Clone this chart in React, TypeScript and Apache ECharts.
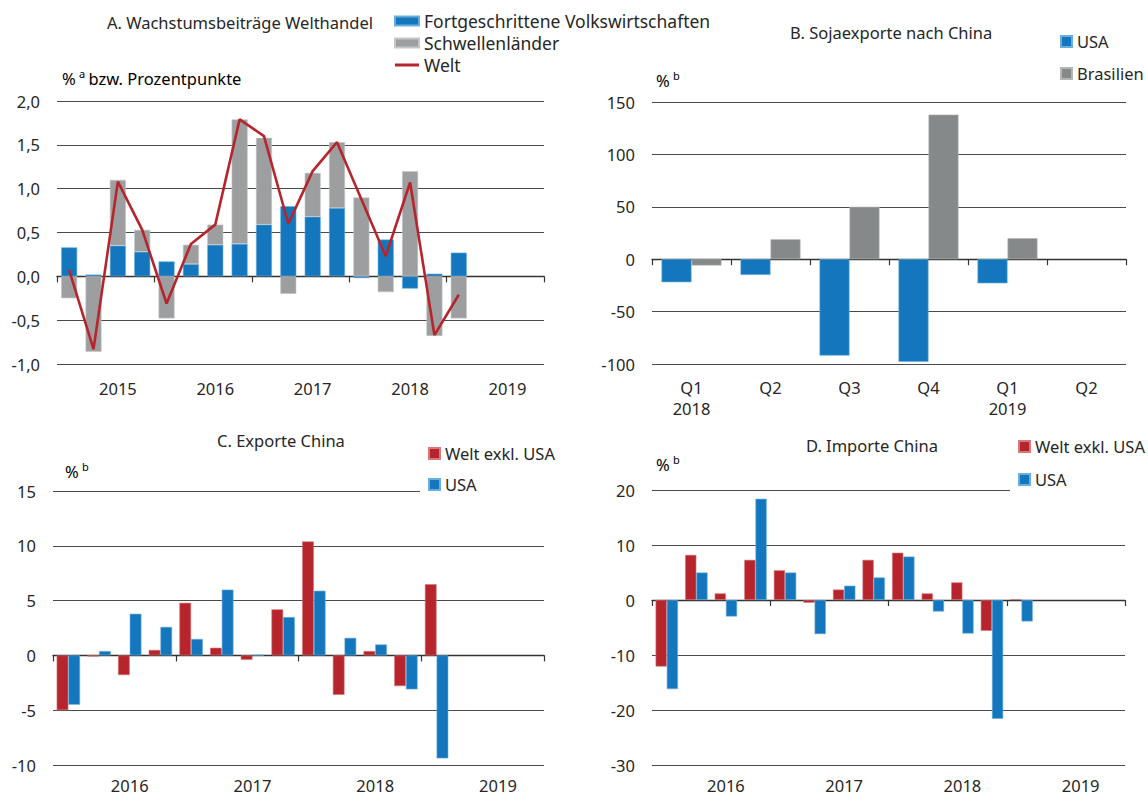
import React, { useEffect, useRef } from 'react';
import * as echarts from 'echarts';

// ---------- Data ----------
const aQuarters = [
  '2015 Q1', '2015 Q2', '2015 Q3', '2015 Q4',
  '2016 Q1', '2016 Q2', '2016 Q3', '2016 Q4',
  '2017 Q1', '2017 Q2', '2017 Q3', '2017 Q4',
  '2018 Q1', '2018 Q2', '2018 Q3', '2018 Q4',
  '2019 Q1', '2019 Q2', '2019 Q3', '2019 Q4',
];
const aYears = ['2015', '2016', '2017', '2018', '2019'];
const aFortgeschrittene = [0.33, 0.02, 0.35, 0.28, 0.17, 0.14, 0.36, 0.37, 0.59, 0.8, 0.68, 0.78, -0.02, 0.42, -0.14, 0.03, 0.27];
const aSchwellen = [-0.25, -0.86, 0.75, 0.25, -0.48, 0.22, 0.23, 1.42, 0.99, -0.2, 0.5, 0.75, 0.9, -0.18, 1.2, -0.68, -0.48];
const aWelt = [0.07, -0.83, 1.08, 0.53, -0.31, 0.37, 0.59, 1.79, 1.6, 0.6, 1.2, 1.53, 0.88, 0.23, 1.07, -0.67, -0.21];

const bCategories = ['Q1\n2018', 'Q2', 'Q3', 'Q4', 'Q1\n2019', 'Q2'];
const bUSA = [-22, -15, -92, -98, -23];
const bBrasilien = [-6, 19, 50, 138, 20];

const cdQuarters = [
  '2016 Q1', '2016 Q2', '2016 Q3', '2016 Q4',
  '2017 Q1', '2017 Q2', '2017 Q3', '2017 Q4',
  '2018 Q1', '2018 Q2', '2018 Q3', '2018 Q4',
  '2019 Q1', '2019 Q2', '2019 Q3', '2019 Q4',
];
const cdYears = ['2016', '2017', '2018', '2019'];
const cWelt = [-5.0, -0.1, -1.8, 0.5, 4.8, 0.7, -0.4, 4.2, 10.4, -3.6, 0.4, -2.8, 6.5];
const cUSA = [-4.5, 0.4, 3.8, 2.6, 1.5, 6.0, 0.05, 3.5, 5.9, 1.6, 1.0, -3.1, -9.4];
const dWelt = [-12.1, 8.2, 1.2, 7.3, 5.4, -0.5, 1.9, 7.3, 8.6, 1.2, 3.2, -5.6, 0.15];
const dUSA = [-16.2, 5.0, -3.0, 18.4, 5.0, -6.2, 2.6, 4.1, 7.9, -2.1, -6.1, -21.6, -3.9];

// ---------- Styles ----------
const FONT = '"Noto Sans", "Open Sans", sans-serif';
const FS = 16.5;
const TXT = '#262626';
const BLUE = '#1476bd';
const GRAY_A = '#9c9e9f';
const GRAY_B = '#868989';
const RED = '#b7252c';
const GRID = '#4a4a4a';
const ZERO = '#8e8e8e';

const labelStyle = { fontFamily: FONT, fontSize: FS, color: TXT };

function yAxis(gridIndex: number, min: number, max: number, interval: number, zeroIdx: number, fmt?: (v: number) => string) {
  const n = Math.round((max - min) / interval) + 1;
  const colors: string[] = [];
  for (let i = 0; i < n; i++) colors.push(i === zeroIdx ? ZERO : GRID);
  return {
    type: 'value', gridIndex, min, max, interval,
    axisLine: { show: false }, axisTick: { show: false },
    axisLabel: { ...labelStyle, margin: 17, formatter: fmt },
    splitLine: { show: true, lineStyle: { color: colors, width: 1 } },
  };
}

function xAxisYears(gridIndex: number, data: string[], years: string[], margin: number) {
  return {
    type: 'category', gridIndex, data,
    axisLine: { show: true, lineStyle: { color: '#333', width: 1.3 } },
    axisTick: { show: true, interval: (i: number) => i % 4 === 0, length: 6, lineStyle: { color: '#333', width: 1.2 } },
    axisLabel: {
      ...labelStyle, interval: 0, margin, lineHeight: 18,
      formatter: (_v: string, i: number) => (i % 4 === 2 ? years[i >> 2] : ''),
    },
  };
}

function txt(text: string, x: number, y: number, align = 'left') {
  return {
    type: 'text', x, y,
    style: { text, fontFamily: FONT, fontSize: FS, fill: TXT, align, verticalAlign: 'middle' },
  };
}

function unitTxt(sup: string, rest: string, x: number, y: number) {
  return {
    type: 'text', x, y,
    style: {
      text: `{n|%} {s|${sup}}${rest ? ' {n|' + rest + '}' : ''}`,
      align: 'left', verticalAlign: 'middle',
      rich: {
        n: { fontFamily: FONT, fontSize: FS, color: TXT, lineHeight: 20 },
        s: { fontFamily: FONT, fontSize: 11, color: TXT, lineHeight: 20, verticalAlign: 'top' },
      },
    },
  };
}

const option: any = {
  animation: false,
  backgroundColor: '#fff',
  grid: [
    { left: 57, right: 604, top: 101, bottom: 434 },
    { left: 652, right: 22, top: 102, bottom: 434 },
    { left: 53, right: 604, top: 491, bottom: 33 },
    { left: 652, right: 23, top: 490, bottom: 33 },
  ],
  xAxis: [
    xAxisYears(0, aQuarters, aYears, 15),
    {
      type: 'category', gridIndex: 1, data: bCategories,
      axisLine: { show: true, lineStyle: { color: '#333', width: 1.3 } },
      axisTick: { show: true, length: 6, lineStyle: { color: '#333', width: 1.2 } },
      axisLabel: { ...labelStyle, margin: 13, lineHeight: 21 },
    },
    xAxisYears(2, cdQuarters, cdYears, 11),
    xAxisYears(3, cdQuarters, cdYears, 11),
  ],
  yAxis: [
    yAxis(0, -1, 2, 0.5, 2, (v: number) => v.toFixed(1).replace('.', ',')),
    yAxis(1, -100, 150, 50, 2),
    yAxis(2, -10, 15, 5, 2),
    yAxis(3, -30, 20, 10, 3),
  ],
  legend: [
    {
      orient: 'vertical', left: 394, top: 12, padding: 0, itemGap: 4,
      itemWidth: 24, itemHeight: 9, textStyle: { ...labelStyle, fontSize: 17.5 },
      data: [
        { name: 'Fortgeschrittene Volkswirtschaften', icon: 'rect' },
        { name: 'Schwellenländer', icon: 'rect' },
        { name: 'Welt', icon: 'path://M0,0L24,0L24,3L0,3Z' },
      ],
    },
    {
      orient: 'vertical', left: 1060, top: 33, padding: 0, itemGap: 15,
      itemWidth: 11, itemHeight: 11, icon: 'rect', textStyle: labelStyle,
      data: ['USA', 'Brasilien'],
    },
    {
      orient: 'vertical', left: 420, top: 441, padding: [4, 12, 5, 8], itemGap: 14,
      itemWidth: 11, itemHeight: 11, icon: 'rect', textStyle: labelStyle, backgroundColor: '#fff',
      data: ['Welt exkl. USA', 'USA'],
    },
    {
      orient: 'vertical', left: 1010, top: 434, padding: [4, 12, 5, 8], itemGap: 16,
      itemWidth: 11, itemHeight: 11, icon: 'rect', textStyle: labelStyle, backgroundColor: '#fff',
      data: ['Welt exkl. USA', 'USA'],
    },
  ],
  graphic: [
    txt('A. Wachstumsbeiträge Welthandel', 373, 22, 'right'),
    unitTxt('a', 'bzw. Prozentpunkte', 62, 78),
    txt('B. Sojaexporte nach China', 790, 32),
    unitTxt('b', '', 656, 80),
    txt('C. Exporte China', 217, 440),
    unitTxt('b', '', 65, 471),
    txt('D. Importe China', 806, 445),
    unitTxt('b', '', 656, 464),
  ],
  series: [
    {
      type: 'bar', name: 'Fortgeschrittene Volkswirtschaften', xAxisIndex: 0, yAxisIndex: 0, stack: 'A',
      data: aFortgeschrittene, barWidth: 16, itemStyle: { color: BLUE, borderColor: '#6aaede', borderWidth: 0.6 },
    },
    {
      type: 'bar', name: 'Schwellenländer', xAxisIndex: 0, yAxisIndex: 0, stack: 'A',
      data: aSchwellen, barWidth: 16, itemStyle: { color: GRAY_A, borderColor: '#c4c6c7', borderWidth: 0.6 },
    },
    {
      type: 'line', name: 'Welt', xAxisIndex: 0, yAxisIndex: 0, data: aWelt, symbol: 'none', z: 5,
      lineStyle: { color: RED, width: 2.6 }, itemStyle: { color: RED },
    },
    {
      type: 'bar', name: 'USA', xAxisIndex: 1, yAxisIndex: 1, data: bUSA,
      barWidth: 30, barGap: '0%', itemStyle: { color: BLUE, borderColor: '#6aaede', borderWidth: 0.6 },
    },
    {
      type: 'bar', name: 'Brasilien', xAxisIndex: 1, yAxisIndex: 1, data: bBrasilien,
      barWidth: 30, barGap: '0%', itemStyle: { color: GRAY_B, borderColor: '#b4b6b6', borderWidth: 0.6 },
    },
    {
      type: 'bar', name: 'Welt exkl. USA', xAxisIndex: 2, yAxisIndex: 2, data: cWelt,
      barWidth: 11.7, barGap: '0%', itemStyle: { color: RED, borderColor: '#d9777b', borderWidth: 0.6 },
    },
    {
      type: 'bar', name: 'USA', xAxisIndex: 2, yAxisIndex: 2, data: cUSA,
      barWidth: 11.7, barGap: '0%', itemStyle: { color: BLUE, borderColor: '#6aaede', borderWidth: 0.6 },
    },
    {
      type: 'bar', name: 'Welt exkl. USA', xAxisIndex: 3, yAxisIndex: 3, data: dWelt,
      barWidth: 11.2, barGap: '0%', itemStyle: { color: RED, borderColor: '#d9777b', borderWidth: 0.6 },
    },
    {
      type: 'bar', name: 'USA', xAxisIndex: 3, yAxisIndex: 3, data: dUSA,
      barWidth: 11.2, barGap: '0%', itemStyle: { color: BLUE, borderColor: '#6aaede', borderWidth: 0.6 },
    },
  ],
};

export default function App() {
  const ref = useRef<HTMLDivElement>(null);
  useEffect(() => {
    if (!ref.current) return;
    const chart = echarts.init(ref.current, null, { renderer: 'svg' });
    chart.setOption(option);
    return () => chart.dispose();
  }, []);
  return (
    <div
      ref={ref}
      style={{ position: 'fixed', left: 0, top: 0, width: 1148, height: 798, background: '#fff' }}
    />
  );
}
